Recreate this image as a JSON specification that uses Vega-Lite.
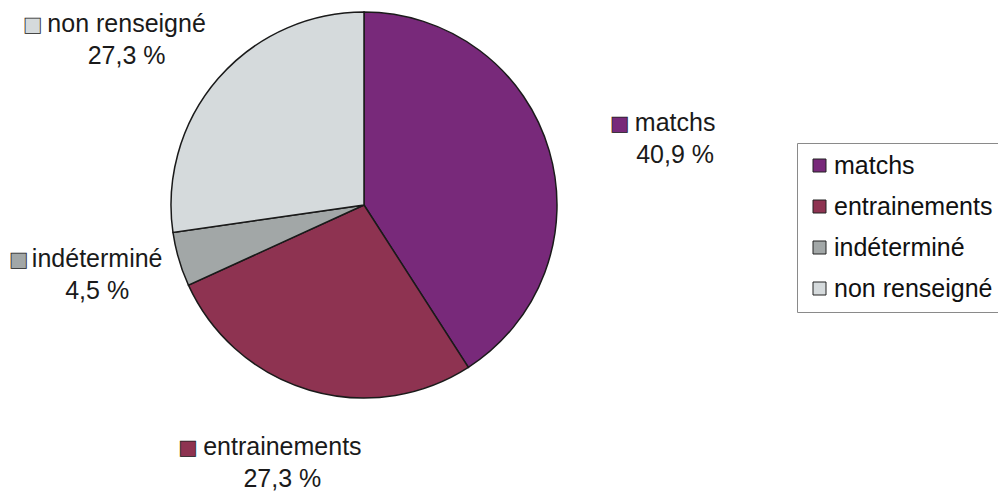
{
  "$schema": "https://vega.github.io/schema/vega-lite/v6.json",
  "width": 728,
  "height": 410,
  "autosize": {"type": "none"},
  "padding": {"left": 0, "top": 0, "right": 270, "bottom": 82},
  "background": "#ffffff",
  "config": {"view": {"stroke": null}, "font": "Liberation Sans"},
  "data": {"values": [
    {"category": "matchs", "value": 9, "label": "matchs\n40,9 %", "order": 1},
    {"category": "entrainements", "value": 6, "label": "entrainements\n27,3 %", "order": 2},
    {"category": "indéterminé", "value": 1, "label": "indéterminé\n4,5 %", "order": 3},
    {"category": "non renseigné", "value": 6, "label": "non renseigné\n27,3 %", "order": 4}
  ]},
  "encoding": {
    "theta": {"field": "value", "type": "quantitative", "stack": true},
    "order": {"field": "order", "type": "quantitative"}
  },
  "layer": [
    {
      "mark": {"type": "arc", "outerRadius": 193, "stroke": "#1a1a1a", "strokeWidth": 1.5},
      "encoding": {
        "color": {
          "field": "category", "type": "nominal",
          "scale": {"domain": ["matchs", "entrainements", "indéterminé", "non renseigné"], "range": ["#78297a", "#8e3351", "#a2a7a7", "#d5dadc"]},
          "legend": {
            "title": null, "orient": "none", "legendX": 797, "legendY": 143,
            "padding": 10, "rowPadding": 15, "labelFontSize": 25, "labelFont": "Liberation Sans", "labelColor": "#111111",
            "symbolType": "square", "symbolSize": 169, "symbolStrokeColor": "#222222", "symbolStrokeWidth": 1,
            "labelOffset": 2, "strokeColor": "#8a8a8a", "fillColor": "#ffffff", "labelLimit": 300
          }
        }
      }
    },
    {"mark": {"type": "text", "radius": 318, "dx": 6, "dy": 8, "align": "center", "baseline": "middle", "lineBreak": "\n", "lineHeight": 32, "fontSize": 25, "font": "Liberation Sans", "color": "#1a1a1a"},
     "encoding": {"text": {"condition": {"test": "datum.category === 'matchs'", "field": "label", "type": "nominal"}, "value": ""}}},
    {"mark": {"type": "text", "radius": 272, "dx": -5, "dy": -19, "align": "center", "baseline": "middle", "lineBreak": "\n", "lineHeight": 32, "fontSize": 25, "font": "Liberation Sans", "color": "#1a1a1a"},
     "encoding": {"text": {"condition": {"test": "datum.category === 'entrainements'", "field": "label", "type": "nominal"}, "value": ""}}},
    {"mark": {"type": "text", "radius": 276, "dx": -2, "dy": -24, "align": "center", "baseline": "middle", "lineBreak": "\n", "lineHeight": 32, "fontSize": 25, "font": "Liberation Sans", "color": "#1a1a1a"},
     "encoding": {"text": {"condition": {"test": "datum.category === 'indéterminé'", "field": "label", "type": "nominal"}, "value": ""}}},
    {"mark": {"type": "text", "radius": 289, "dx": -19, "dy": 8, "align": "center", "baseline": "middle", "lineBreak": "\n", "lineHeight": 32, "fontSize": 25, "font": "Liberation Sans", "color": "#1a1a1a"},
     "encoding": {"text": {"condition": {"test": "datum.category === 'non renseigné'", "field": "label", "type": "nominal"}, "value": ""}}},
    {"mark": {"type": "text", "radius": 318, "dx": -49.5, "dy": 9, "align": "center", "baseline": "middle", "fontSize": 20, "font": "DejaVu Sans", "stroke": "#222222", "strokeWidth": 0.8},
     "encoding": {"text": {"condition": {"test": "datum.category === 'matchs'", "value": "■"}, "value": ""}, "color": {"field": "category", "type": "nominal"}}},
    {"mark": {"type": "text", "radius": 272, "dx": -99.5, "dy": -18, "align": "center", "baseline": "middle", "fontSize": 20, "font": "DejaVu Sans", "stroke": "#222222", "strokeWidth": 0.8},
     "encoding": {"text": {"condition": {"test": "datum.category === 'entrainements'", "value": "■"}, "value": ""}, "color": {"field": "category", "type": "nominal"}}},
    {"mark": {"type": "text", "radius": 276, "dx": -80.5, "dy": -23, "align": "center", "baseline": "middle", "fontSize": 20, "font": "DejaVu Sans", "stroke": "#222222", "strokeWidth": 0.8},
     "encoding": {"text": {"condition": {"test": "datum.category === 'indéterminé'", "value": "■"}, "value": ""}, "color": {"field": "category", "type": "nominal"}}},
    {"mark": {"type": "text", "radius": 289, "dx": -113, "dy": 9, "align": "center", "baseline": "middle", "fontSize": 20, "font": "DejaVu Sans", "stroke": "#222222", "strokeWidth": 0.8},
     "encoding": {"text": {"condition": {"test": "datum.category === 'non renseigné'", "value": "■"}, "value": ""}, "color": {"field": "category", "type": "nominal"}}}
  ]
}
